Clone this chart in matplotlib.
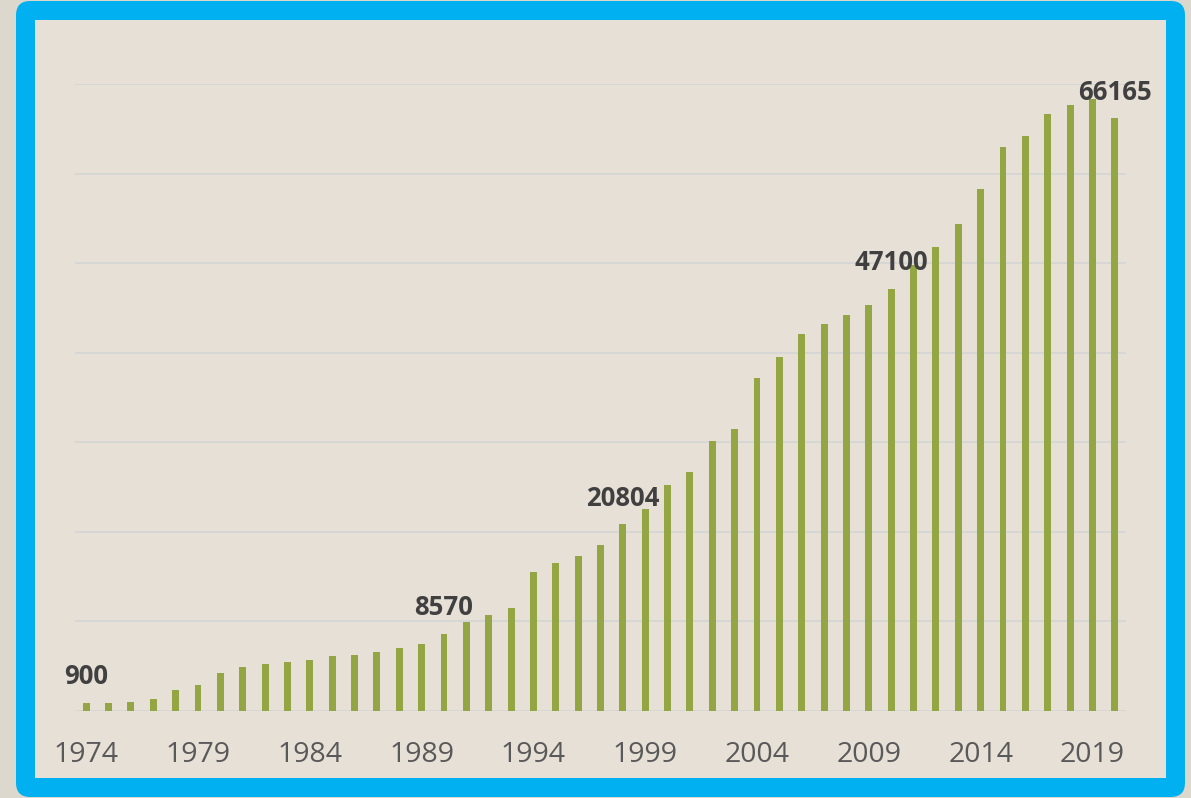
import matplotlib.pyplot as plt
from matplotlib.patches import FancyBboxPatch, Rectangle

# Dane
lata = list(range(1974, 2021))
wartosci = [900, 900, 930, 1330, 2300, 2890, 4260, 4930, 5220, 5410,
            5630, 6150, 6190, 6520, 7000, 7490, 8570, 9925, 10670, 11420,
            15450, 16450, 17240, 18470, 20804, 22580, 25220, 26680, 30070, 31440,
            37130, 39470, 42110, 43160, 44160, 45350, 47100, 49800, 51820, 54370,
            58260, 62910, 64230, 66670, 67700, 68360, 66165]
etykiety_lat = [1974, 1990, 1998, 2010, 2020]
tick_lata = list(range(1974, 2020, 5))

W, H = 1191, 798
fig = plt.figure(figsize=(W / 100, H / 100), dpi=100)
fig.patch.set_facecolor("#DDD8CE")

# niebieska ramka z zaokraglonymi rogami
ramka = FancyBboxPatch((16 / W, 1 / H), (1185 - 16) / W, (797 - 1) / H,
                       boxstyle="round,pad=0,rounding_size=0.012",
                       transform=fig.transFigure, facecolor="#00B0F0",
                       edgecolor="none", zorder=-2, mutation_aspect=W / H)
fig.patches.append(ramka)
wnetrze = Rectangle((35 / W, (H - 778) / H), (1166 - 35) / W, (778 - 20) / H,
                    transform=fig.transFigure, facecolor="#E7E0D7",
                    edgecolor="none", zorder=-1)
fig.patches.append(wnetrze)

ax = fig.add_axes([75 / W, (H - 710.7) / H, 1051 / W, 626.7 / H])
ax.set_zorder(5)
ax.set_facecolor("none")
ax.bar(lata, wartosci, width=0.31, color="#94A544", zorder=3)

ax.set_xlim(1973.5, 2020.5)
ax.set_ylim(0, 70000)
ax.set_yticks(range(0, 70001, 10000))
ax.set_yticklabels([])
ax.grid(axis="y", color="#D6D6D4", linewidth=1.4, zorder=0)
ax.set_xticks(tick_lata)
ax.set_xticklabels([str(r) for r in tick_lata], fontsize=20.5, color="#595959",
                   family="Open Sans")
ax.tick_params(axis="both", length=0, pad=22)
for s in ax.spines.values():
    s.set_visible(False)

for rok, w in zip(lata, wartosci):
    if rok in etykiety_lat:
        ax.annotate(str(w), (rok, w), xytext=(0, 13.5), textcoords="offset points",
                    ha="center", va="baseline", fontsize=18.5, fontweight="bold",
                    color="#404040", family="Open Sans", zorder=4)

plt.savefig("out.png", dpi=100, facecolor=fig.get_facecolor())
